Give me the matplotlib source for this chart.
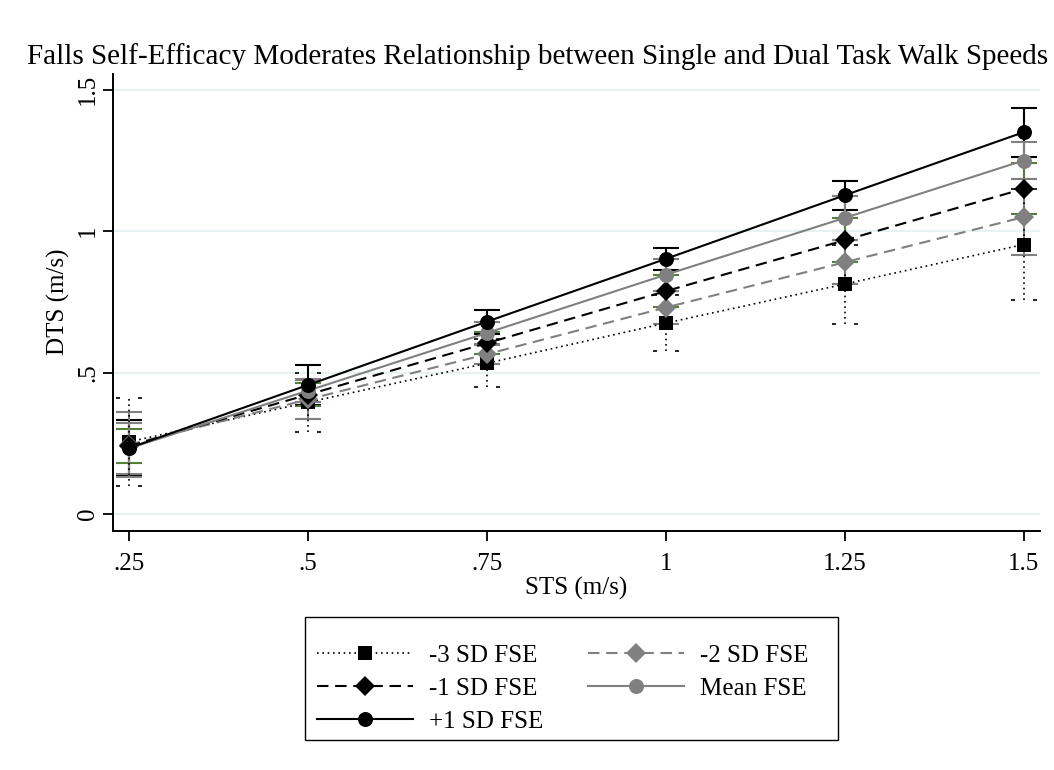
import matplotlib
matplotlib.use("Agg")
import matplotlib.pyplot as plt
from matplotlib.lines import Line2D
from matplotlib.path import Path
from matplotlib.patches import Rectangle

# ---- data -------------------------------------------------------------
sts = [0.25, 0.5, 0.75, 1.0, 1.25, 1.5]

series_labels = ["-3 SD FSE", "-2 SD FSE", "-1 SD FSE", "Mean FSE", "+1 SD FSE"]

dts_m3 = [0.255, 0.395, 0.533, 0.675, 0.813, 0.953]
dts_m2 = [0.245, 0.405, 0.565, 0.730, 0.890, 1.050]
dts_m1 = [0.240, 0.422, 0.604, 0.788, 0.968, 1.150]
dts_mean = [0.232, 0.436, 0.640, 0.846, 1.047, 1.250]
dts_p1 = [0.233, 0.456, 0.680, 0.902, 1.127, 1.350]

ci_m3 = [0.157, 0.105, 0.085, 0.100, 0.140, 0.195]
ci_m2 = [0.115, 0.070, 0.034, 0.057, 0.078, 0.134]
ci_m1 = [0.060, 0.040, 0.038, 0.057, 0.078, 0.090]
ci_mean = [0.090, 0.040, 0.038, 0.057, 0.078, 0.064]
ci_p1 = [0.100, 0.070, 0.042, 0.040, 0.051, 0.086]

x_ticks = [0.25, 0.5, 0.75, 1.0, 1.25, 1.5]
x_ticklabels = [".25", ".5", ".75", "1", "1.25", "1.5"]
y_ticks = [0, 0.5, 1.0, 1.5]
y_ticklabels = ["0", ".5", "1", "1.5"]

title = "Falls Self-Efficacy Moderates Relationship between Single and Dual Task Walk Speeds"
xlabel = "STS (m/s)"
ylabel = "DTS (m/s)"

# ---- style ------------------------------------------------------------
plt.rcParams["font.family"] = ["Liberation Serif", "DejaVu Serif"]
FS = 18
GRAY = "#808080"
GREEN = "#55803a"
GRID = "#e9f1f3"

dash = (0, (5.5, 3.2))
dot = (0, (1, 2.2))

styles = [
    dict(color="black", ls=dot, lw=1.2, marker="s", ms=10.0, bar="black", bar_ls=dot),
    dict(color=GRAY, ls=dash, lw=1.5, marker="D", ms=10.0, bar=GRAY, bar_ls="-"),
    dict(color="black", ls=dash, lw=1.5, marker="D", ms=10.0, bar=GREEN, bar_ls="-"),
    dict(color=GRAY, ls="-", lw=1.5, marker="o", ms=10.8, bar=GRAY, bar_ls="-"),
    dict(color="black", ls="-", lw=1.5, marker="o", ms=10.8, bar="black", bar_ls="-"),
]
values = [dts_m3, dts_m2, dts_m1, dts_mean, dts_p1]
cis = [ci_m3, ci_m2, ci_m1, ci_mean, ci_p1]

# dotted cap marker: two small dots
cap_verts, cap_codes = [], []
for a in (-0.3, 0.2):
    cap_verts += [(a, 0), (a + 0.1, 0)]
    cap_codes += [Path.MOVETO, Path.LINETO]
dotted_cap = Path(cap_verts, cap_codes)

fig = plt.figure(figsize=(10.54, 7.70), dpi=100)
ax = fig.add_axes([113 / 1054, 1 - 531 / 770, 927 / 1054, 457 / 770])

ax.set_xlim(0.228, 1.523)
ax.set_ylim(-0.060, 1.556)

for yv in y_ticks:
    ax.axhline(yv, color=GRID, lw=1.6, zorder=0)

# confidence intervals
for vals, ci, st in reversed(list(zip(values, cis, styles))):
    eb = ax.errorbar(sts, vals, yerr=ci, fmt="none", ecolor=st["bar"],
                     elinewidth=1.5, capsize=9.5, capthick=1.5, zorder=2)
    eb[2][0].set_linestyle(st["bar_ls"])
    if st["bar_ls"] != "-":
        eb[2][0].set_linewidth(1.2)
        for cl in eb[1]:
            cl.set_marker(dotted_cap)
            cl.set_linewidth(0)
            cl.set_markeredgewidth(1.2)

# fitted lines with markers
for i, (vals, st) in enumerate(zip(values, styles)):
    ax.plot(sts, vals, color=st["color"], ls=st["ls"], lw=st["lw"],
            marker=st["marker"], ms=st["ms"], mfc=st["color"], mec=st["color"],
            mew=0, zorder=3 + i)

ax.spines["top"].set_visible(False)
ax.spines["right"].set_visible(False)
for s in ("left", "bottom"):
    ax.spines[s].set_linewidth(1.4)

ax.set_xticks(x_ticks)
ax.set_xticklabels(x_ticklabels)
ax.set_yticks(y_ticks)
ax.set_yticklabels(y_ticklabels, rotation=90, va="center")
ax.tick_params(axis="x", length=7, width=1.3, pad=9, labelsize=FS)
ax.tick_params(axis="y", length=7, width=1.3, pad=3, labelsize=FS)

ax.set_xlabel(xlabel, fontsize=FS, labelpad=1)
fig.text(65 / 1054, 1 - 302 / 770, ylabel, rotation=90, rotation_mode="anchor",
         ha="center", va="baseline", fontsize=FS)

fig.text(538 / 1054, 1 - 64 / 770, title, ha="center", va="baseline", fontsize=21)

# legend, filled row by row: (-3, -2), (-1, Mean), (+1)
handles = [Line2D([], [], color=st["color"], ls=st["ls"], lw=st["lw"],
                  marker=st["marker"], ms=st["ms"], mfc=st["color"],
                  mec=st["color"], mew=0) for st in styles]
order = [0, 2, 4, 1, 3]
leg = fig.legend([handles[k] for k in order], [series_labels[k] for k in order],
                 ncol=2, loc="upper left",
                 bbox_to_anchor=(317 / 1054, 1 - 644 / 770), frameon=False,
                 fontsize=FS, handlelength=3.84, handletextpad=0.64,
                 columnspacing=1.8, labelspacing=0.43, borderpad=0,
                 borderaxespad=0)
fig.patches.append(Rectangle((305 / 1054, 1 - 740 / 770), 533 / 1054, 123 / 770,
                             transform=fig.transFigure, fill=False,
                             ec="black", lw=1.0))

fig.savefig("out.png", dpi=100, facecolor="white")
